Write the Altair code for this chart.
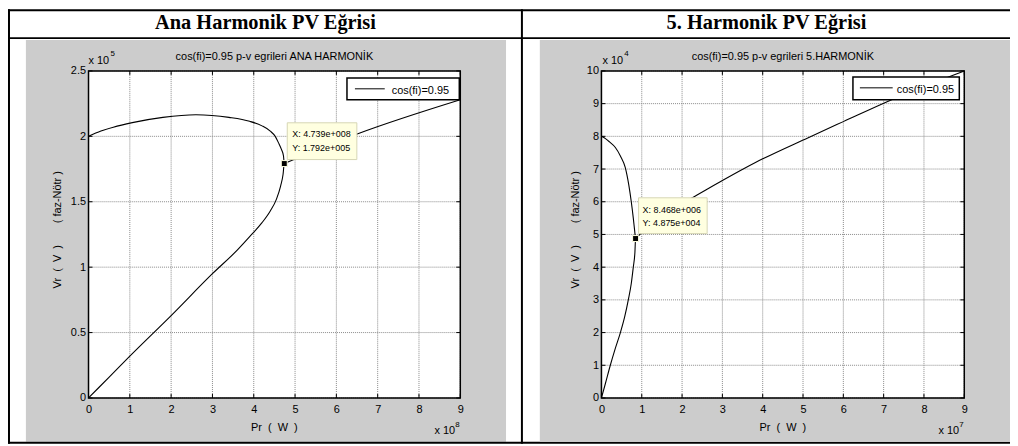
import altair as alt
import pandas as pd

FONT = "Liberation Sans"
SERIF = "Liberation Serif"

# ---------------- data: fundamental (x in 1e8 W, y in 1e5 V) ----------------
ana_lower_x = [0, 0.5, 1.0, 2.0, 3.0, 3.6, 3.95, 4.2, 4.4, 4.55, 4.65, 4.71, 4.739]
ana_lower_y = [0, 0.16, 0.32, 0.63, 0.95, 1.13, 1.25, 1.34, 1.43, 1.52, 1.62, 1.71, 1.792]
ana_upper_x = [4.739, 4.72, 4.67, 4.6, 4.52, 4.4, 4.2, 3.9, 3.4, 2.6, 1.8, 1.06, 0.6, 0.3, 0]
ana_upper_y = [1.792, 1.85, 1.9, 1.95, 2.0, 2.04, 2.08, 2.115, 2.145, 2.165, 2.145, 2.105, 2.07, 2.04, 2.0]
ana_tail_x = [4.739, 6.52, 9.0]
ana_tail_y = [1.792, 2.02, 2.28]
ana_tip = (4.739, 1.792)
ana_tip_text = ["X: 4.739e+008", "Y: 1.792e+005"]
ana_xticks = [0, 1, 2, 3, 4, 5, 6, 7, 8, 9]
ana_yticks = [0, 0.5, 1, 1.5, 2, 2.5]

# ---------------- data: 5th harmonic (x in 1e7 W, y in 1e4 V) ----------------
h5_lower_x = [0, 0.1, 0.22, 0.34, 0.47, 0.58, 0.666, 0.74, 0.79, 0.83, 0.8468]
h5_lower_y = [0, 0.45, 1.0, 1.5, 2.0, 2.5, 3.0, 3.5, 4.0, 4.45, 4.875]
h5_upper_x = [0.8468, 0.825, 0.79, 0.74, 0.68, 0.59, 0.47, 0.345, 0.2, 0.1, 0]
h5_upper_y = [4.875, 5.1, 5.5, 6.0, 6.5, 7.05, 7.4, 7.66, 7.83, 7.93, 8.0]
h5_tail_x = [0.8468, 1.5, 2.32, 3.0, 3.82, 5.13, 6.0, 7.2, 9.0]
h5_tail_y = [4.875, 5.6, 6.17, 6.65, 7.2, 7.96, 8.45, 9.12, 10.0]
h5_tip = (0.8468, 4.875)
h5_tip_text = ["X: 8.468e+006", "Y: 4.875e+004"]
h5_xticks = [0, 1, 2, 3, 4, 5, 6, 7, 8, 9]
h5_yticks = [0, 1, 2, 3, 4, 5, 6, 7, 8, 9, 10]

H = 329
dummy = pd.DataFrame({"a": [0]})
NB = "\u00a0"


def curve_df(lx, ly, ux, uy, tx, ty):
    rows = []
    o = 0
    for x, y in zip(lx + ux[1:], ly + uy[1:]):
        rows.append({"x": x, "y": y, "seg": "main", "ord": o})
        o += 1
    for x, y in zip(tx, ty):
        rows.append({"x": x, "y": y, "seg": "tail", "ord": o})
        o += 1
    return pd.DataFrame(rows)


def vrect(x1, x2, y1, y2, color):
    return alt.Chart(dummy).mark_rect(color=color).encode(
        x=alt.value(x1), x2=alt.value(x2), y=alt.value(y1), y2=alt.value(y2))


def vtext(txt, x, y, size=11, align="center", font=FONT, weight="normal", angle=0, baseline="alphabetic"):
    return alt.Chart(dummy).mark_text(
        text=txt, font=font, fontSize=size, fontWeight=weight, align=align,
        baseline=baseline, angle=angle, color="black"
    ).encode(x=alt.value(x), y=alt.value(y))


def panel(W, df, xticks, yticks, ydom, tip, tip_text, cfg, table=False):
    X = alt.X("x:Q", scale=alt.Scale(domain=[0, 9], nice=False, zero=False),
              axis=alt.Axis(values=xticks, format="d", grid=False, ticks=False, tickSize=0,
                            domain=False, labelFont=FONT, labelFontSize=11, labelPadding=6,
                            labelColor="black", title=None, zindex=1, labelFlush=False,
                            labelOverlap=False))
    Y = alt.Y("y:Q", scale=alt.Scale(domain=ydom, nice=False, zero=False),
              axis=alt.Axis(values=yticks, format=".1~f", grid=False, ticks=False, tickSize=0,
                            domain=False, labelFont=FONT, labelFontSize=11, labelPadding=3,
                            labelColor="black", title=None, zindex=1, labelFlush=False,
                            labelOverlap=False))
    xt = pd.DataFrame({"x": xticks})
    yt = pd.DataFrame({"y": yticks})
    layers = []
    gx1, gx2 = cfg["gray"]
    layers.append(vrect(gx1, gx2, -31, 373, "#cccccc"))
    if table:
        layers += [
            vrect(-81, -79, -62, 375, "black"),
            vrect(-81, 927, -62, -60, "black"),
            vrect(-81, 927, -34, -32, "black"),
            vrect(435, 437, -62, 375, "black"),
            vrect(-81, 927, 373, 375, "black"),
        ]
    layers.append(vrect(0, W, 0, H, "white"))
    # grid
    layers.append(alt.Chart(xt).mark_rule(color="#8a8a8a", strokeWidth=1, strokeDash=[1, 1]).encode(
        x=X, y=alt.value(0), y2=alt.value(H)))
    layers.append(alt.Chart(yt).mark_rule(color="#8a8a8a", strokeWidth=1, strokeDash=[1, 1]).encode(
        y=Y, x=alt.value(0), x2=alt.value(W)))
    # curves
    layers.append(alt.Chart(df).mark_line(color="black", strokeWidth=1.1, interpolate="monotone").encode(
        x=X, y=Y, detail="seg:N", order="ord:Q"))
    # frame
    layers.append(alt.Chart(dummy).mark_rect(fillOpacity=0, stroke="black", strokeWidth=1.5).encode(
        x=alt.value(0), x2=alt.value(W), y=alt.value(0), y2=alt.value(H)))
    # inward ticks
    layers.append(alt.Chart(xt).mark_rule(color="black").encode(x=X, y=alt.value(H), y2=alt.value(H - 4)))
    layers.append(alt.Chart(xt).mark_rule(color="black").encode(x=X, y=alt.value(0), y2=alt.value(4)))
    layers.append(alt.Chart(yt).mark_rule(color="black").encode(y=Y, x=alt.value(0), x2=alt.value(4)))
    layers.append(alt.Chart(yt).mark_rule(color="black").encode(y=Y, x=alt.value(W), x2=alt.value(W - 4)))
    # legend
    lx1, lx2, ly1, ly2 = cfg["legbox"]
    layers.append(alt.Chart(dummy).mark_rect(fill="white", stroke="black", strokeWidth=1.5).encode(
        x=alt.value(lx1), x2=alt.value(lx2), y=alt.value(ly1), y2=alt.value(ly2)))
    sx1, sx2, sy = cfg["legline"]
    layers.append(alt.Chart(dummy).mark_rule(color="black", strokeWidth=1).encode(
        x=alt.value(sx1), x2=alt.value(sx2), y=alt.value(sy)))
    tx, ty = cfg["legtext"]
    layers.append(vtext("cos(fi)=0.95", tx, ty, size=11, align="left"))
    # datatip
    tipdf = pd.DataFrame({"x": [tip[0]], "y": [tip[1]]})
    o = cfg["tipbox"]
    layers.append(alt.Chart(tipdf).mark_rect(
        fill="#ffffe0", stroke="#d6d6b4", strokeWidth=1,
        xOffset=o[0], x2Offset=o[1], yOffset=o[2], y2Offset=o[3]
    ).encode(x=X, x2="x", y=Y, y2="y"))
    layers.append(alt.Chart(tipdf).mark_square(size=36, color="black", opacity=1, stroke="#ffffe0",
                                                strokeWidth=1).encode(x=X, y=Y))
    dx, dy1, dy2 = cfg["tiptext"]
    for txt, dy in zip(tip_text, [dy1, dy2]):
        layers.append(alt.Chart(tipdf).mark_text(
            text=txt, font=FONT, fontSize=9, align="left", baseline="alphabetic",
            dx=dx, dy=dy, color="black").encode(x=X, y=Y))
    # texts
    layers.append(vtext(cfg["header"][0], cfg["header"][1], -42, size=20.5, font=SERIF, weight="bold"))
    layers.append(vtext(cfg["title"], W / 2, -11, size=11))
    ex, sup = cfg["exp_top"]
    layers.append(vtext("x 10", ex, -7, size=11, align="left"))
    layers.append(vtext(sup, ex + 22, -15, size=8, align="left"))
    bx, bsup = cfg["exp_bot"]
    layers.append(vtext("x 10", bx, 365, size=11, align="left"))
    layers.append(vtext(bsup, bx + 21, 358, size=8, align="left"))
    layers.append(vtext("Pr" + NB * 2 + "(" + NB * 2 + "W" + NB * 2 + ")", W / 2, 362, size=11))
    yx = cfg["ytitle_x"]
    layers.append(vtext("Vr" + NB * 2 + "(" + NB * 2 + "V" + NB * 2 + ")", yx, 197, size=11,
                        angle=270, baseline="middle"))
    layers.append(vtext("(" + NB + "faz-Nötr" + NB + ")", yx, 127, size=11,
                        angle=270, baseline="middle"))
    return alt.layer(*layers).properties(width=W, height=H)


df1 = curve_df(ana_lower_x, ana_lower_y, ana_upper_x, ana_upper_y, ana_tail_x, ana_tail_y)
df2 = curve_df(h5_lower_x, h5_lower_y, h5_upper_x, h5_upper_y, h5_tail_x, h5_tail_y)

cfg1 = {
    "gray": (-63, 420),
    "header": ("Ana Harmonik PV Eğrisi", 178),
    "title": "cos(fi)=0.95 p-v egrileri ANA HARMONİK",
    "exp_top": (0, "5"),
    "exp_bot": (348, "8"),
    "ytitle_x": -31,
    "legbox": (260, 373, 7, 29),
    "legline": (268, 298, 18),
    "legtext": (305, 23),
    "tipbox": (3, 73, -41, -4),
    "tiptext": (8, -27, -13),
}
cfg2 = {
    "gray": (-62, 411),
    "header": ("5. Harmonik PV Eğrisi", 166),
    "title": "cos(fi)=0.95 p-v egrileri 5.HARMONİK",
    "exp_top": (1, "4"),
    "exp_bot": (339, "7"),
    "ytitle_x": -26,
    "legbox": (253, 360, 6, 29),
    "legline": (260, 293, 17),
    "legtext": (297, 22),
    "tipbox": (3, 72, -41, -5),
    "tiptext": (7, -26, -13),
}

p1 = panel(374, df1, ana_xticks, ana_yticks, [0, 2.5], ana_tip, ana_tip_text, cfg1, table=True)
p2 = panel(365, df2, h5_xticks, h5_yticks, [0, 10], h5_tip, h5_tip_text, cfg2)

chart = alt.hconcat(p1, p2, spacing=142, bounds="flush", padding=0).resolve_scale(
    x="independent", y="independent"
).configure_view(stroke=None)

chart.save("out.html", embed_options={"renderer": "svg", "actions": False})
